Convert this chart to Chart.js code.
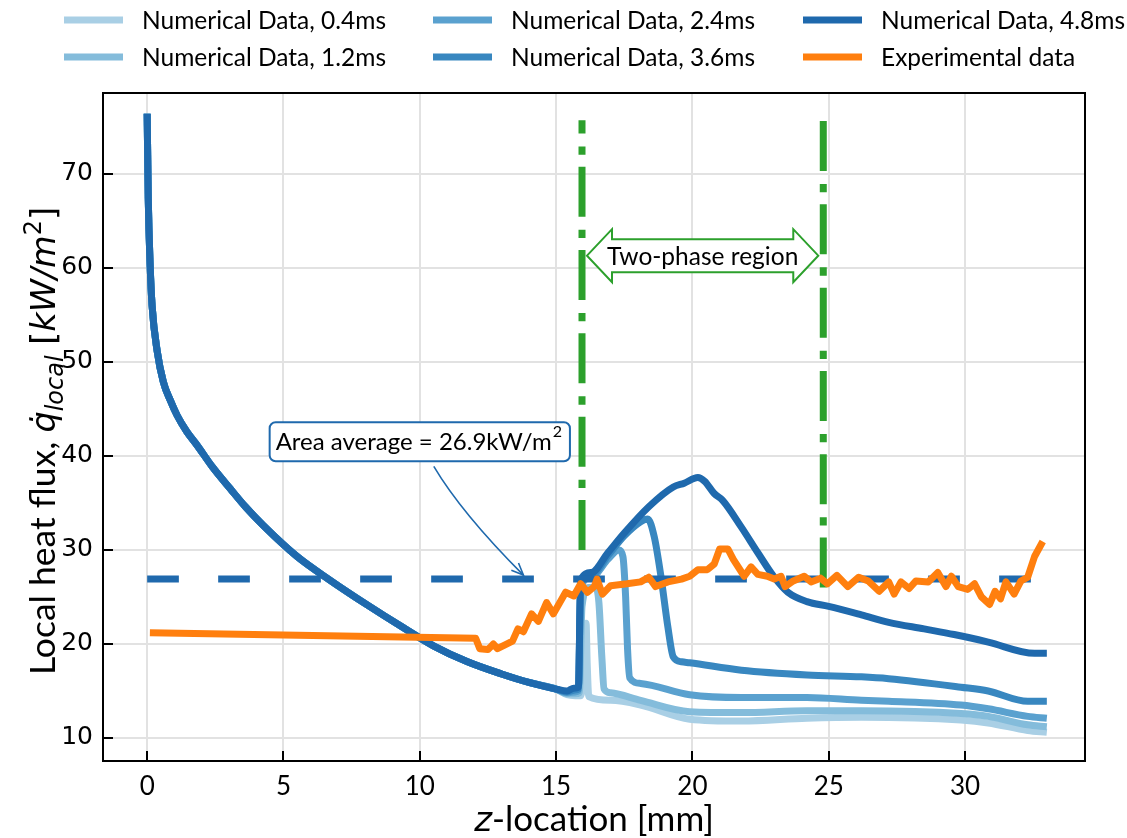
<!DOCTYPE html>
<html>
<head>
<meta charset="utf-8">
<script src="https://cdn.jsdelivr.net/npm/chart.js@4.4.1/dist/chart.umd.min.js"></script>
<style>
  html, body { margin: 0; padding: 0; background: #fff; }
  #wrap { width: 1127px; height: 838px; }
</style>
</head>
<body>
<div id="wrap"><canvas id="chart"></canvas></div>
<script>
// z-location [mm] / local heat flux [kW/m2]

// all numerical runs share the same decay up to ~15 mm
const baseZ = [0, 0.04, 0.11, 0.18, 0.37, 0.59, 0.85, 1.1, 1.45, 1.84, 2.4, 3.05, 3.6, 4.26, 5.5, 6.7, 8.1, 9.3, 10.5, 11.75, 13.0, 14.0, 15.0];
const baseQ = [76.4, 67.4, 60.2, 56.0, 51.1, 47.9, 45.9, 44.3, 42.6, 41.1, 38.8, 36.5, 34.6, 32.6, 29.3, 26.8, 24.1, 21.9, 19.8, 18.1, 16.8, 15.9, 15.2];

const run04Z = [15.4, 15.7, 15.9, 16.02, 16.1, 16.14, 16.2, 17.0, 18.1, 19.9, 21.8, 24.2, 26.2, 29.85, 30.85, 32.3, 33.0];
const run04Q = [14.6, 14.5, 14.5, 17.5, 22.2, 18.0, 14.4, 14.0, 13.5, 12.0, 11.8, 12.1, 12.2, 11.9, 11.6, 10.8, 10.6];

const run12Z = [15.4, 15.7, 15.85, 15.95, 16.2, 16.45, 16.57, 16.68, 16.76, 17.0, 18.1, 19.9, 21.8, 24.2, 26.2, 29.85, 30.85, 32.3, 33.0];
const run12Q = [14.7, 14.7, 14.8, 24.0, 26.0, 26.0, 24.4, 18.5, 15.2, 14.8, 14.0, 12.8, 12.7, 12.9, 12.9, 12.6, 12.3, 11.4, 11.2];

const run24Z = [15.4, 15.7, 15.82, 15.9, 16.3, 16.9, 17.3, 17.45, 17.55, 17.62, 17.7, 18.1, 19.9, 21.8, 24.2, 26.2, 27.2, 29.85, 30.85, 32.3, 33.0];
const run24Q = [14.8, 14.9, 15.0, 26.0, 27.1, 29.0, 30.0, 29.3, 25.0, 19.5, 16.4, 15.8, 14.6, 14.3, 14.3, 14.0, 13.9, 13.5, 13.1, 12.3, 12.1];

const run36Z = [15.4, 15.7, 15.82, 15.9, 16.3, 16.9, 17.5, 18.1, 18.36, 18.6, 18.85, 19.1, 19.3, 19.6, 19.9, 21.8, 24.2, 26.2, 27.2, 29.85, 30.85, 32.3, 33.0];
const run36Q = [14.9, 15.1, 15.2, 26.3, 27.3, 29.4, 31.5, 33.0, 33.3, 31.4, 27.1, 21.8, 18.6, 18.1, 18.0, 17.2, 16.7, 16.5, 16.3, 15.4, 15.0, 13.9, 13.9];

const run48Z = [15.4, 15.65, 15.82, 15.9, 16.3, 16.9, 17.5, 18.4, 19.3, 19.7, 20.2, 20.45, 20.8, 21.1, 21.8, 22.4, 23.0, 23.5, 24.2, 25.0, 26.2, 27.2, 28.5, 29.6, 30.85, 32.55, 33.0];
const run48Q = [15.0, 15.3, 15.4, 26.8, 27.6, 29.7, 31.8, 34.6, 36.7, 37.1, 37.7, 37.3, 36.0, 35.3, 32.4, 29.7, 27.1, 25.5, 24.5, 24.0, 23.1, 22.3, 21.6, 21.0, 20.2, 19.0, 19.0];

const expZ = [0.1, 12.05, 12.2, 12.5, 12.7, 12.85, 13.2, 13.4, 13.6, 13.8, 14.1, 14.35, 14.65, 14.9, 15.35, 15.65, 15.9, 16.15, 16.4, 16.5, 16.7, 17.0, 17.6, 18.1, 18.4, 18.65, 19.1, 19.6, 19.9, 20.2, 20.55, 20.8, 21.0, 21.3, 21.5, 21.9, 22.15, 22.4, 22.75, 23.0, 23.25, 23.4, 23.7, 24.1, 24.35, 24.7, 24.95, 25.3, 25.7, 26.1, 26.45, 26.85, 27.2, 27.4, 27.65, 27.95, 28.2, 28.65, 29.0, 29.3, 29.5, 29.75, 30.1, 30.35, 30.6, 30.9, 31.1, 31.3, 31.5, 31.8, 32.05, 32.3, 32.55, 32.85];
const expQ = [21.2, 20.6, 19.5, 19.4, 20.0, 19.5, 20.0, 20.3, 21.6, 21.3, 23.2, 22.4, 24.4, 23.2, 25.5, 25.1, 26.4, 25.5, 26.1, 26.9, 25.3, 26.2, 26.4, 26.6, 27.1, 26.1, 26.6, 26.9, 27.2, 27.9, 27.9, 28.5, 30.1, 30.1, 29.0, 27.2, 28.2, 27.4, 27.2, 26.9, 27.2, 26.1, 26.7, 27.2, 26.6, 27.0, 26.4, 27.3, 26.1, 27.1, 26.7, 25.6, 26.6, 25.3, 26.6, 25.9, 26.7, 26.6, 27.6, 26.1, 27.2, 26.1, 25.8, 26.4, 25.0, 24.2, 25.6, 24.8, 26.6, 25.3, 26.7, 27.1, 29.3, 30.9];

// area average line and two-phase region bounds
const avgZ = [0, 33];
const avgQ = [26.9, 26.9];
const phaseZ = [15.95, 24.8];
const phaseBottomQ = [30.0, 26.0];
const phaseTopQ = 75.7;

const xTicks = [0, 5, 10, 15, 20, 25, 30];
const yTicks = [10, 20, 30, 40, 50, 60, 70];

const seriesNames = ['Numerical Data, 0.4ms', 'Numerical Data, 1.2ms', 'Numerical Data, 2.4ms',
                     'Numerical Data, 3.6ms', 'Numerical Data, 4.8ms', 'Experimental data'];
const seriesColors = ['#a9cfe5', '#84bcdb', '#5aa1cf', '#3887c0', '#1f69ad', '#ff7f0e'];

const pts = (zs, qs) => zs.map((z, i) => ({ x: z, y: qs[i] }));
const numerical = (zs, qs) => pts(baseZ, baseQ).concat(pts(zs, qs));

const lineBase = { pointRadius: 0, borderWidth: 7, fill: false, borderJoinStyle: 'round' };

const datasets = [
  { ...lineBase, label: seriesNames[0], data: numerical(run04Z, run04Q), borderColor: seriesColors[0], cubicInterpolationMode: 'monotone', order: 7 },
  { ...lineBase, label: seriesNames[1], data: numerical(run12Z, run12Q), borderColor: seriesColors[1], cubicInterpolationMode: 'monotone', order: 6 },
  { ...lineBase, label: seriesNames[2], data: numerical(run24Z, run24Q), borderColor: seriesColors[2], cubicInterpolationMode: 'monotone', order: 5 },
  { ...lineBase, label: seriesNames[3], data: numerical(run36Z, run36Q), borderColor: seriesColors[3], cubicInterpolationMode: 'monotone', order: 4 },
  { ...lineBase, label: seriesNames[4], data: numerical(run48Z, run48Q), borderColor: seriesColors[4], cubicInterpolationMode: 'monotone', order: 3 },
  { ...lineBase, label: 'avg', data: pts(avgZ, avgQ), borderColor: '#1f69ad', borderDash: [31.7, 39.3], order: 2 },
  { ...lineBase, label: 'phase1', data: [{ x: phaseZ[0], y: phaseBottomQ[0] }, { x: phaseZ[0], y: phaseTopQ }], borderColor: '#2ca02c', borderDash: [50, 12, 8.3, 13], order: 1 },
  { ...lineBase, label: 'phase2', data: [{ x: phaseZ[1], y: phaseBottomQ[1] }, { x: phaseZ[1], y: phaseTopQ }], borderColor: '#2ca02c', borderDash: [50, 12, 8.3, 13], order: 1 },
  { ...lineBase, label: seriesNames[5], data: pts(expZ, expQ), borderColor: seriesColors[5], tension: 0, order: 0 },
];

const CAL = 'Lato, "Open Sans", sans-serif';
const DJV = '"DejaVu Sans", sans-serif';

// draw a run of text pieces (font / vertical shift) centred on x
function drawPieces(ctx, pieces, x, y) {
  let w = 0;
  pieces.forEach(p => { ctx.font = p.f; w += ctx.measureText(p.t).width; });
  let cx = x - w / 2;
  pieces.forEach(p => {
    ctx.font = p.f;
    ctx.fillText(p.t, cx, y + (p.dy || 0));
    cx += ctx.measureText(p.t).width;
  });
}

const decor = {
  id: 'decor',
  afterDraw(chart) {
    const { ctx, chartArea: a, scales: { x, y } } = chart;
    ctx.save();

    // inward ticks + frame
    ctx.strokeStyle = '#000';
    ctx.lineWidth = 2;
    ctx.beginPath();
    xTicks.forEach(v => { const px = Math.round(x.getPixelForValue(v)); ctx.moveTo(px, a.bottom); ctx.lineTo(px, a.bottom - 10); });
    yTicks.forEach(v => { const py = Math.round(y.getPixelForValue(v)); ctx.moveTo(a.left, py); ctx.lineTo(a.left + 10, py); });
    ctx.stroke();
    ctx.strokeRect(a.left, a.top, a.right - a.left, a.bottom - a.top);

    // legend, 3 columns x 2 rows
    const colX = [64, 433, 803];
    const rowY = [20, 57];
    ctx.textBaseline = 'middle';
    ctx.textAlign = 'left';
    seriesNames.forEach((name, i) => {
      const lx = colX[Math.floor(i / 2)], ly = rowY[i % 2];
      ctx.strokeStyle = seriesColors[i];
      ctx.lineWidth = 7;
      ctx.beginPath();
      ctx.moveTo(lx, ly); ctx.lineTo(lx + 59, ly);
      ctx.stroke();
      ctx.fillStyle = '#000';
      ctx.font = '24.5px ' + CAL;
      ctx.fillText(name, lx + 78, ly + 1);
    });

    // axis titles
    ctx.fillStyle = '#000';
    ctx.textBaseline = 'alphabetic';
    drawPieces(ctx, [
      { t: 'z', f: 'italic 34px ' + DJV },
      { t: '-location [mm]', f: '35px ' + CAL },
    ], (a.left + a.right) / 2, 831);

    ctx.save();
    ctx.translate(55, (a.top + a.bottom) / 2 + 14);
    ctx.rotate(-Math.PI / 2);
    drawPieces(ctx, [
      { t: 'Local heat flux, ', f: '35.5px ' + CAL },
      { t: 'q\u0307', f: 'italic 33.5px ' + DJV },
      { t: 'local', f: 'italic 24px ' + DJV, dy: 8 },
      { t: ' [', f: '33.5px ' + DJV },
      { t: 'kW/m', f: 'italic 33.5px ' + DJV },
      { t: '2', f: '24px ' + DJV, dy: -14 },
      { t: ']', f: '33.5px ' + DJV },
    ], 0, 0);
    ctx.restore();

    // two-phase region double arrow
    const x0 = x.getPixelForValue(phaseZ[0]) + 5;
    const x1 = x.getPixelForValue(phaseZ[1]) - 5;
    const cy = y.getPixelForValue(61.3);
    const head = 25, hh = 26.5, bh = 16.5;
    ctx.beginPath();
    ctx.moveTo(x0, cy);
    ctx.lineTo(x0 + head, cy - hh); ctx.lineTo(x0 + head, cy - bh);
    ctx.lineTo(x1 - head, cy - bh); ctx.lineTo(x1 - head, cy - hh);
    ctx.lineTo(x1, cy);
    ctx.lineTo(x1 - head, cy + hh); ctx.lineTo(x1 - head, cy + bh);
    ctx.lineTo(x0 + head, cy + bh); ctx.lineTo(x0 + head, cy + hh);
    ctx.closePath();
    ctx.fillStyle = '#fff';
    ctx.fill();
    ctx.strokeStyle = '#2ca02c';
    ctx.lineWidth = 2;
    ctx.stroke();
    ctx.fillStyle = '#000';
    ctx.textAlign = 'center';
    ctx.textBaseline = 'middle';
    ctx.font = '24.5px ' + CAL;
    ctx.fillText('Two-phase region', (x0 + x1) / 2, cy + 1);

    // area-average label with curved arrow
    const tx = x.getPixelForValue(10.0), ty = y.getPixelForValue(41.5);
    ctx.textAlign = 'left';
    ctx.textBaseline = 'alphabetic';
    const mainTxt = 'Area average = 26.9kW/m';
    ctx.font = '24px ' + CAL;
    const w1 = ctx.measureText(mainTxt).width;
    ctx.font = '16px ' + CAL;
    const w2 = ctx.measureText('2').width;
    const bw = w1 + w2 + 15, bhh = 39;
    const bx = tx - bw / 2, by = ty - bhh / 2;
    ctx.beginPath();
    ctx.roundRect(bx, by, bw, bhh, 6);
    ctx.fillStyle = '#fff';
    ctx.fill();
    ctx.strokeStyle = '#1f69ad';
    ctx.lineWidth = 2;
    ctx.stroke();
    ctx.fillStyle = '#000';
    ctx.font = '24px ' + CAL;
    ctx.fillText(mainTxt, bx + 6, ty + 8);
    ctx.font = '16px ' + CAL;
    ctx.fillText('2', bx + 6 + w1 + 1, ty - 5);

    const sx = tx + 14, sy = by + bhh + 5;
    const ex = x.getPixelForValue(13.8), ey = y.getPixelForValue(avgQ[0]) - 4;
    const qx = sx + 0.31 * (ex - sx), qy = sy + 0.43 * (ey - sy);
    ctx.beginPath();
    ctx.moveTo(sx, sy);
    ctx.quadraticCurveTo(qx, qy, ex, ey);
    ctx.lineWidth = 1.6;
    ctx.stroke();
    const ang = Math.atan2(ey - qy, ex - qx);
    ctx.beginPath();
    ctx.moveTo(ex - 13 * Math.cos(ang - 0.4), ey - 13 * Math.sin(ang - 0.4));
    ctx.lineTo(ex, ey);
    ctx.lineTo(ex - 13 * Math.cos(ang + 0.4), ey - 13 * Math.sin(ang + 0.4));
    ctx.stroke();

    ctx.restore();
  }
};

new Chart(document.getElementById('chart'), {
  type: 'line',
  data: { datasets },
  options: {
    responsive: true,
    maintainAspectRatio: false,
    animation: false,
    events: [],
    layout: { padding: { top: 93, right: 42, left: 0, bottom: 0 } },
    plugins: { legend: { display: false }, tooltip: { enabled: false } },
    scales: {
      x: {
        type: 'linear',
        min: -1.62,
        max: 34.4,
        afterBuildTicks: s => { s.ticks = xTicks.map(v => ({ value: v })); },
        afterFit: s => { s.height = 77; },
        ticks: { padding: 10, color: '#000', font: { family: CAL, size: 26 } },
        grid: { color: '#e2e2e2', lineWidth: 2, drawTicks: false },
        border: { display: false },
      },
      y: {
        type: 'linear',
        min: 7.55,
        max: 78.6,
        afterBuildTicks: s => { s.ticks = yTicks.map(v => ({ value: v })); },
        afterFit: s => { s.width = 103; },
        ticks: { padding: 10, color: '#000', font: { family: DJV, size: 25 } },
        grid: { color: '#e2e2e2', lineWidth: 2, drawTicks: false },
        border: { display: false },
      },
    },
  },
  plugins: [decor],
});
</script>
</body>
</html>
